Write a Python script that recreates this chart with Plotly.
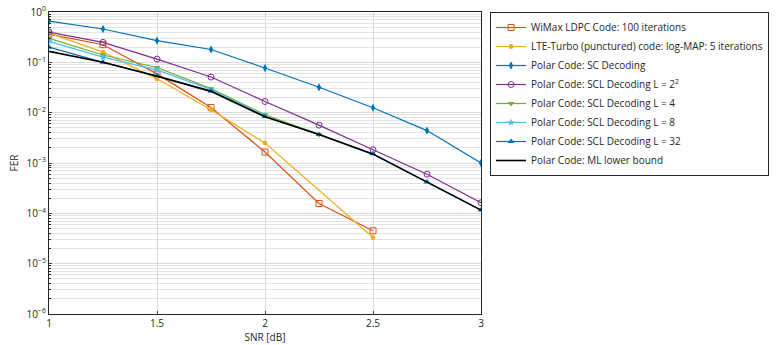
import plotly.graph_objects as go

snr = [1.0, 1.25, 1.5, 1.75, 2.0, 2.25, 2.5, 2.75, 3.0]

wimax_x = [1.0, 1.25, 1.5, 1.75, 2.0, 2.25, 2.5]
wimax_fer = [0.365, 0.224, 0.059, 0.0127, 0.00165, 0.000157, 4.5e-5]

lte_x = [1.0, 1.25, 1.5, 1.75, 2.0, 2.5]
lte_fer = [0.38, 0.16, 0.047, 0.0114, 0.0025, 3.3e-5]

sc_fer = [0.66, 0.46, 0.27, 0.18, 0.077, 0.032, 0.0125, 0.0044, 0.001]
scl22_fer = [0.40, 0.249, 0.116, 0.051, 0.0167, 0.00566, 0.00183, 0.0006, 0.000162]
scl4_x = [1.0, 1.25, 1.5, 1.75, 2.0, 2.25]
scl4_fer = [0.30, 0.14, 0.079, 0.030, 0.0091, 0.0037]
scl8_x = [1.0, 1.25, 1.5, 1.75, 2.0]
scl8_fer = [0.26, 0.127, 0.071, 0.0285, 0.0087]
scl32_fer = [0.20, 0.10, 0.054, 0.027, 0.0084, 0.0037, 0.00152, 0.00042, 0.000116]
ml_fer = [0.165, 0.10, 0.053, 0.0265, 0.0083, 0.0037, 0.0015, 0.00042, 0.000116]

x_ticks = [1, 1.5, 2, 2.5, 3]
x_tick_labels = ["1", "1.5", "2", "2.5", "3"]
y_ticks = [1e-6, 1e-5, 1e-4, 1e-3, 1e-2, 1e-1, 1]
y_tick_labels = ["10<sup>\u22126</sup>", "10<sup>\u22125</sup>", "10<sup>\u22124</sup>",
                 "10<sup>\u22123</sup>", "10<sup>\u22122</sup>", "10<sup>\u22121</sup>", "10<sup>0</sup>"]

names = [
    "WiMax LDPC Code: 100 iterations",
    "LTE-Turbo (punctured) code: log-MAP: 5 iterations",
    "Polar Code: SC Decoding",
    "Polar Code: SCL Decoding L = 2<sup>2</sup>",
    "Polar Code: SCL Decoding L = 4",
    "Polar Code: SCL Decoding L = 8",
    "Polar Code: SCL Decoding L = 32",
    "Polar Code: ML lower bound",
]

fig = go.Figure()
fig.add_trace(go.Scatter(x=wimax_x, y=wimax_fer, name=names[0], mode="lines+markers",
                         line=dict(color="#D95319", width=1.2),
                         marker=dict(symbol="square-open", size=6, color="#D95319")))
fig.add_trace(go.Scatter(x=lte_x, y=lte_fer, name=names[1], mode="lines+markers",
                         line=dict(color="#EDB120", width=1.2),
                         marker=dict(symbol="asterisk-open", size=4, color="#EDB120", line=dict(width=1.5))))
fig.add_trace(go.Scatter(x=snr, y=sc_fer, name=names[2], mode="lines+markers",
                         line=dict(color="#0072BD", width=1.2),
                         marker=dict(symbol="diamond-tall", size=6, color="#0072BD")))
fig.add_trace(go.Scatter(x=snr, y=scl22_fer, name=names[3], mode="lines+markers",
                         line=dict(color="#7E2F8E", width=1.2),
                         marker=dict(symbol="circle-open", size=6, color="#7E2F8E")))
fig.add_trace(go.Scatter(x=scl4_x, y=scl4_fer, name=names[4], mode="lines+markers",
                         line=dict(color="#77AC30", width=1.2),
                         marker=dict(symbol="triangle-down", size=6, color="#77AC30")))
fig.add_trace(go.Scatter(x=scl8_x, y=scl8_fer, name=names[5], mode="lines+markers",
                         line=dict(color="#4DBEEE", width=1.2),
                         marker=dict(symbol="star", size=6, color="#4DBEEE")))
fig.add_trace(go.Scatter(x=snr, y=scl32_fer, name=names[6], mode="lines+markers",
                         line=dict(color="#0072BD", width=1.2),
                         marker=dict(symbol="triangle-up", size=6, color="#0072BD")))
fig.add_trace(go.Scatter(x=snr, y=ml_fer, name=names[7], mode="lines",
                         line=dict(color="#000000", width=1.6)))

fig.update_layout(
    width=776, height=345,
    margin=dict(l=49, r=295, t=12, b=31, autoexpand=False),
    paper_bgcolor="white", plot_bgcolor="white",
    font=dict(family="Open Sans", size=10, color="#262626"),
    showlegend=True,
    legend=dict(x=1.021, y=1.0, xanchor="left", yanchor="top",
                bordercolor="#262626", borderwidth=1, bgcolor="white",
                font=dict(size=10), tracegroupgap=0, itemwidth=30),
    xaxis=dict(range=[1, 3], tickmode="array", tickvals=x_ticks, ticktext=x_tick_labels,
               automargin=False,
               showgrid=True, gridcolor="#d9d9d9", gridwidth=1,
               showline=True, linecolor="#262626", linewidth=1, mirror=True,
               ticks="inside", ticklen=3, zeroline=False,
               title=dict(text="SNR [dB]", standoff=2, font=dict(size=10))),
    yaxis=dict(type="log", range=[-6, 0], tickmode="array", tickvals=y_ticks, ticktext=y_tick_labels,
               automargin=False, ticklabeloverflow="allow",
               showgrid=True, gridcolor="#d9d9d9", gridwidth=1,
               minor=dict(dtick="D1", showgrid=True, gridcolor="#e3e3e3", gridwidth=1,
                          ticks="inside", ticklen=2, tickcolor="#262626"),
               showline=True, linecolor="#262626", linewidth=1, mirror=True,
               ticks="inside", ticklen=3, zeroline=False,
               title=dict(text="FER", standoff=6, font=dict(size=10))),
)

fig.write_html("out.html", config={"displayModeBar": False},
               post_script="document.body.style.margin='0';")
